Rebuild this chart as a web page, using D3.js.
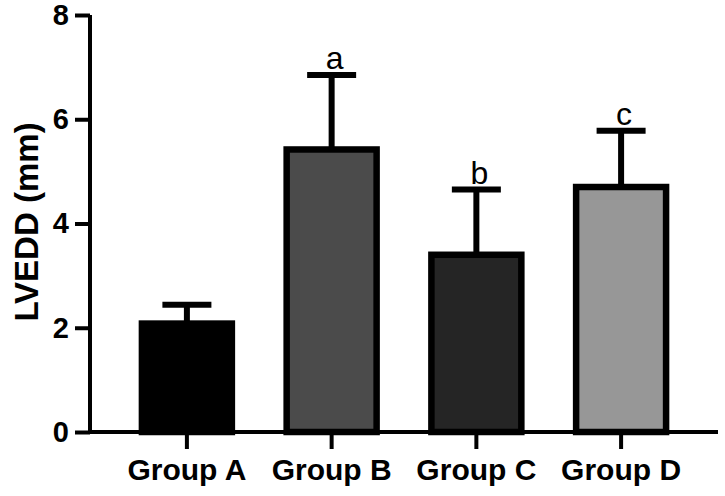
<!DOCTYPE html>
<html><head><meta charset="utf-8">
<script src="https://cdn.jsdelivr.net/npm/d3@7"></script>
<style>html,body{margin:0;padding:0;background:#fff;}</style>
</head><body>
<svg id="c" width="725" height="496"></svg>
<script>
const categories = ["Group A", "Group B", "Group C", "Group D"];
const means = [2.08, 5.42, 3.40, 4.70];
const errTops = [2.44, 6.85, 4.65, 5.78];
const sigLetters = ["", "a", "b", "c"];
const fills = ["#000000", "#4b4b4b", "#252525", "#979797"];
const yTicks = [0, 2, 4, 6, 8];
const yTitle = "LVEDD (mm)";

const svg = d3.select("#c");
const font = "'Liberation Sans', Arial, sans-serif";

const x = d3.scaleBand().domain(categories).range([90, 718]).paddingInner(0.337).paddingOuter(0.338);
const y = d3.scaleLinear().domain([0, 8]).range([432, 15]);

// bars
svg.append("g").selectAll("rect").data(categories).join("rect")
  .attr("x", d => x(d) + 3)
  .attr("width", x.bandwidth() - 6)
  .attr("y", (d, i) => y(means[i]))
  .attr("height", (d, i) => y(0) - y(means[i]))
  .attr("fill", (d, i) => fills[i])
  .attr("stroke", "#000").attr("stroke-width", 6.5);

// error bars
const eb = svg.append("g");
categories.forEach((c, i) => {
  const cx = x(c) + x.bandwidth() / 2;
  eb.append("line").attr("x1", cx).attr("x2", cx)
    .attr("y1", y(means[i])).attr("y2", y(errTops[i]))
    .attr("stroke", "#000").attr("stroke-width", 6);
  eb.append("line").attr("x1", cx - 24.5).attr("x2", cx + 24.5)
    .attr("y1", y(errTops[i])).attr("y2", y(errTops[i]))
    .attr("stroke", "#000").attr("stroke-width", 6);
  if (sigLetters[i]) {
    eb.append("text").attr("x", cx + 3).attr("y", y(errTops[i]) - 6)
      .attr("text-anchor", "middle").attr("font-family", font)
      .attr("font-size", 32).attr("fill", "#000").text(sigLetters[i]);
  }
});

// y axis
const ya = svg.append("g").attr("transform", "translate(90,0)")
  .call(d3.axisLeft(y).tickValues(yTicks).tickSize(15).tickPadding(6).tickFormat(d3.format("d")));
ya.select(".domain").attr("stroke-width", 4).attr("d", "M0," + y(8) + "V" + y(0));
ya.selectAll(".tick line").attr("stroke-width", 4);
ya.selectAll(".tick text").attr("font-family", font).attr("font-weight", "bold")
  .attr("font-size", 29).attr("fill", "#000");

// x axis
const xa = svg.append("g").attr("transform", "translate(0,432)")
  .call(d3.axisBottom(x).tickSize(17).tickPadding(10));
xa.select(".domain").attr("stroke-width", 4).attr("d", "M88,0H718");
xa.selectAll(".tick line").attr("stroke-width", 4);
xa.selectAll(".tick text").attr("font-family", font).attr("font-weight", "bold")
  .attr("font-size", 30).attr("fill", "#000");

// y title
svg.append("text").attr("transform", "translate(38,222) rotate(-90)")
  .attr("text-anchor", "middle").attr("font-family", font).attr("font-weight", "bold")
  .attr("font-size", 33).attr("fill", "#000").text(yTitle);
</script>
</body></html>
